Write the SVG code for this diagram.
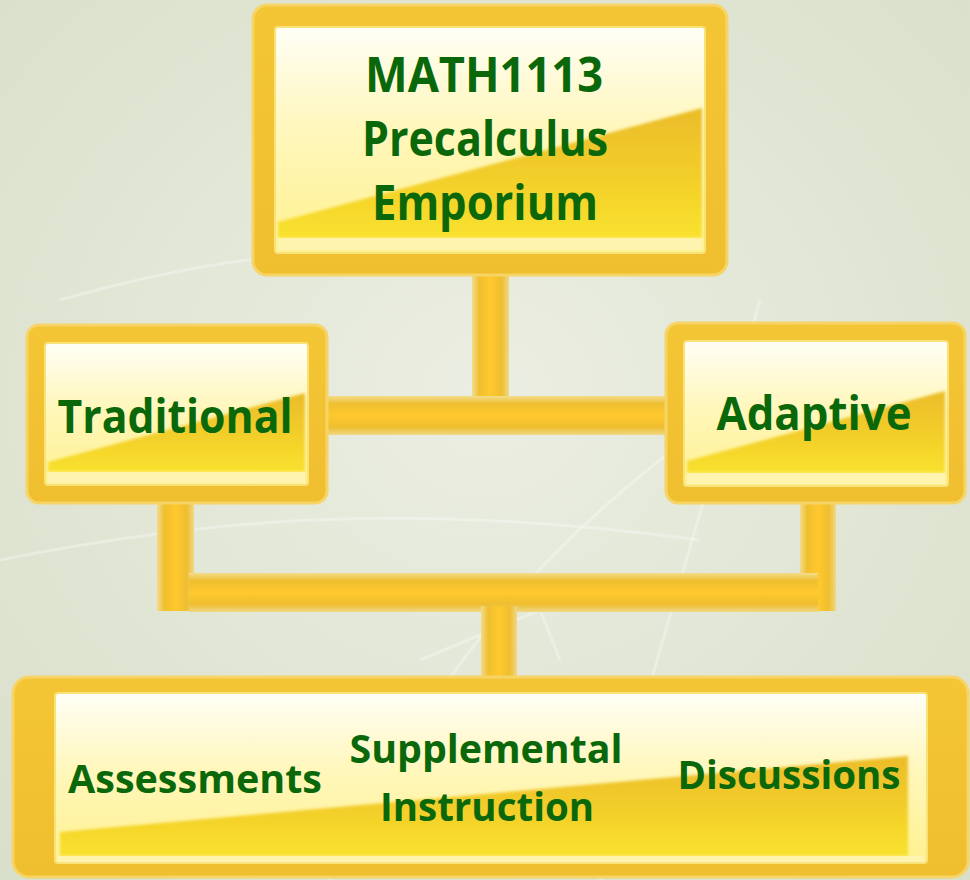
<svg xmlns="http://www.w3.org/2000/svg" width="970" height="880" viewBox="0 0 970 880">
<defs>
<radialGradient id="bg" cx="0.5" cy="0.45" r="0.75">
<stop offset="0" stop-color="#ebeee2"/>
<stop offset="0.6" stop-color="#e0e5d3"/>
<stop offset="1" stop-color="#d8dfca"/>
</radialGradient>
<linearGradient id="innerG" x1="0" y1="0" x2="0" y2="1">
<stop offset="0" stop-color="#fffef6"/>
<stop offset="0.45" stop-color="#fff7bc"/>
<stop offset="1" stop-color="#fff190"/>
</linearGradient>
<linearGradient id="lowerG" x1="0" y1="0" x2="0" y2="1">
<stop offset="0" stop-color="#ebbc28"/>
<stop offset="0.55" stop-color="#f3cf2a"/>
<stop offset="1" stop-color="#f9e22e"/>
</linearGradient>
<linearGradient id="frameG" x1="0" y1="0" x2="0" y2="1">
<stop offset="0" stop-color="#f4c535"/>
<stop offset="1" stop-color="#f0bf30"/>
</linearGradient>
<linearGradient id="barH" x1="0" y1="0" x2="0" y2="1">
<stop offset="0" stop-color="#f3dc8c"/>
<stop offset="0.2" stop-color="#efbf30"/>
<stop offset="0.5" stop-color="#ffc92e"/>
<stop offset="0.8" stop-color="#efbe30"/>
<stop offset="1" stop-color="#f0d886"/>
</linearGradient>
<linearGradient id="barV" x1="0" y1="0" x2="1" y2="0">
<stop offset="0" stop-color="#f3dc8c"/>
<stop offset="0.2" stop-color="#efbf30"/>
<stop offset="0.5" stop-color="#ffc92e"/>
<stop offset="0.8" stop-color="#efbe30"/>
<stop offset="1" stop-color="#f0d886"/>
</linearGradient>
<filter id="soft" x="-5%" y="-5%" width="110%" height="110%">
<feGaussianBlur stdDeviation="1.5"/>
</filter>
</defs>
<style>
.frame{fill:url(#frameG);stroke:#f6d466;stroke-width:3}
.inner{fill:url(#innerG);stroke:#f8e27a;stroke-width:2}
.lower{fill:url(#lowerG);filter:url(#soft)}
.strip{fill:#fff4b4;opacity:0.85}
.bh{fill:url(#barH)}
.bv{fill:url(#barV)}
text{font-family:"Open Sans","Liberation Sans",sans-serif;font-weight:bold;fill:#0a680a;text-anchor:middle}
.t1{font-size:49px}
.t2{font-size:46px}
.t3{font-size:40px}
.sk{fill:none;stroke:#ffffff;stroke-opacity:0.3;stroke-width:3}
</style>
<rect x="0" y="0" width="970" height="880" fill="url(#bg)"/>
<g id="background-sketch">
<path class="sk" d="M330 880 C 420 700 520 560 700 430"/>
<path class="sk" d="M600 880 C 640 700 690 560 760 300"/>
<path class="sk" d="M0 560 C 200 520 400 500 700 540"/>
<path class="sk" d="M420 660 L 540 610 L 560 660"/>
<path class="sk" d="M60 300 C 200 260 300 250 420 250"/>
</g>
<g id="connectors">
<rect class="bv" x="472" y="268" width="37" height="132"/>
<rect class="bh" x="322" y="396" width="348" height="39"/>
<rect class="bv" x="157" y="498" width="37" height="113"/>
<rect class="bv" x="800" y="498" width="36" height="113"/>
<rect class="bh" x="189" y="573" width="629" height="39"/>
<rect class="bv" x="481" y="606" width="36" height="74"/>
</g>
<g id="node-math1113">
<rect class="frame" x="253" y="5" width="474" height="270" rx="14"/>
<rect class="inner" x="275" y="27" width="430" height="226" rx="3"/>
<polygon class="lower" points="278,222 702,108 702,238 278,238"/>
<rect class="strip" x="278" y="238" width="424" height="12"/>
<text class="t1" x="484" y="92" textLength="238" lengthAdjust="spacingAndGlyphs">MATH1113</text>
<text class="t1" x="485" y="156" textLength="246" lengthAdjust="spacingAndGlyphs">Precalculus</text>
<text class="t1" x="485" y="220" textLength="226" lengthAdjust="spacingAndGlyphs">Emporium</text>
</g>
<g id="node-traditional">
<rect class="frame" x="27" y="325" width="300" height="178" rx="12"/>
<rect class="inner" x="45" y="343" width="263" height="142" rx="3"/>
<polygon class="lower" points="48,462 305,393 305,472 48,472"/>
<rect class="strip" x="48" y="472" width="257" height="11"/>
<text class="t2" x="175" y="433" textLength="235" lengthAdjust="spacingAndGlyphs">Traditional</text>
</g>
<g id="node-adaptive">
<rect class="frame" x="666" y="323" width="299" height="180" rx="12"/>
<rect class="inner" x="684" y="341" width="264" height="145" rx="3"/>
<polygon class="lower" points="687,461 945,391 945,473 687,473"/>
<rect class="strip" x="687" y="473" width="258" height="11"/>
<text class="t2" x="814" y="430" textLength="195" lengthAdjust="spacingAndGlyphs">Adaptive</text>
</g>
<g id="node-components">
<rect class="frame" x="13" y="677" width="955" height="200" rx="16"/>
<rect class="inner" x="55" y="693" width="872" height="170" rx="3"/>
<polygon class="lower" points="60,832 908,756 908,856 60,856"/>
<rect class="strip" x="58" y="856" width="866" height="6"/>
<text class="t3" x="195" y="793" textLength="254" lengthAdjust="spacingAndGlyphs">Assessments</text>
<text class="t3" x="486" y="763" textLength="273" lengthAdjust="spacingAndGlyphs">Supplemental</text>
<text class="t3" x="487" y="821" textLength="214" lengthAdjust="spacingAndGlyphs">Instruction</text>
<text class="t3" x="789" y="789" textLength="223" lengthAdjust="spacingAndGlyphs">Discussions</text>
</g>
</svg>
